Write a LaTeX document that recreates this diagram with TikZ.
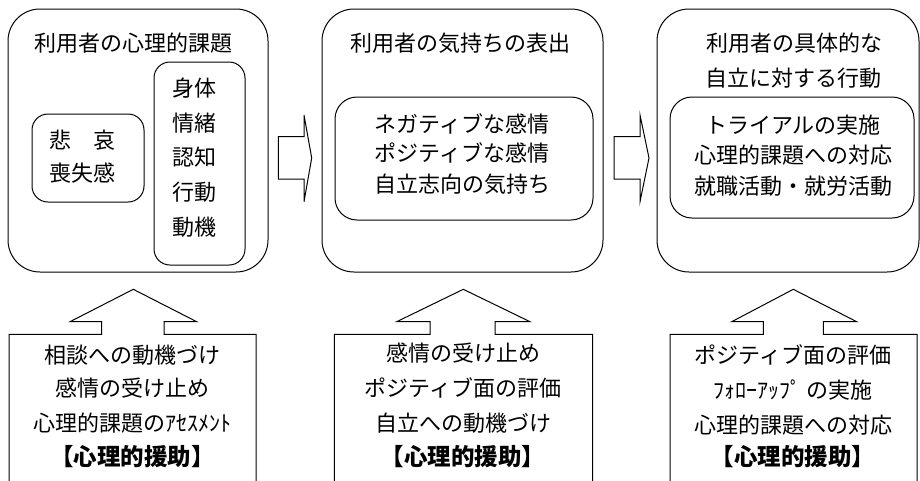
\documentclass[tikz,border=0pt]{standalone}
\usepackage{fontspec}
\setmainfont{Noto Sans CJK JP}
\begin{document}
\begin{tikzpicture}[x=1pt,y=-1pt,line width=1pt,
  outerbox/.style={draw,rounded corners=32pt,inner sep=0pt},
  innerbox/.style={draw,rounded corners=16pt,inner sep=0pt},
  midbox/.style={draw,rounded corners=22pt,inner sep=0pt},
  txt/.style={font=\fontsize{22}{22}\selectfont,inner sep=0pt,anchor=center},
  btxt/.style={font=\fontsize{23.5}{23.5}\selectfont\bfseries,inner sep=0pt,anchor=center},
  blockarrow/.style={draw,line join=miter}]
\useasboundingbox (0,0) rectangle (920,480);
% top boxes
\node[outerbox,minimum width=260pt,minimum height=263pt] (B1) at (138,140.5) {};
\node[outerbox,minimum width=281pt,minimum height=263pt] (B2) at (462.5,140.5) {};
\node[outerbox,minimum width=262pt,minimum height=263pt] (B3) at (788,140.5) {};
% inner boxes
\node[innerbox,minimum width=112pt,minimum height=88pt] (I1a) at (88,158) {};
\node[innerbox,minimum width=91pt,minimum height=203pt] (I1b) at (199.5,163.5) {};
\node[midbox,minimum width=258pt,minimum height=123pt] (I2) at (464,158.5) {};
\node[midbox,minimum width=244pt,minimum height=121pt] (I3) at (792,157.5) {};
% box 1 texts
\node[txt] (t1) at (133,43) {利用者の心理的課題};
\node[txt,anchor=west] (t1a1) at (49,140) {悲　哀};
\node[txt,anchor=west] (t1a2) at (49,173) {喪失感};
\node[txt] (t1b1) at (194,88) {身体};
\node[txt] (t1b2) at (194,123) {情緒};
\node[txt] (t1b3) at (194,157) {認知};
\node[txt] (t1b4) at (194,192) {行動};
\node[txt] (t1b5) at (194,227) {動機};
% box 2 texts
\node[txt] (t2) at (460,43) {利用者の気持ちの表出};
\node[txt] (t2a) at (462,124) {ネガティブな感情};
\node[txt] (t2b) at (462,153) {ポジティブな感情};
\node[txt] (t2c) at (462,184) {自立志向の気持ち};
% box 3 texts
\node[txt] (t3a) at (794,43) {利用者の具体的な};
\node[txt] (t3b) at (793,78) {自立に対する行動};
\node[txt] (t3c) at (793,125) {トライアルの実施};
\node[txt] (t3d) at (793,155) {心理的課題への対応};
\node[txt] (t3e) at (793,186) {就職活動・就労活動};
% right block arrows
\draw[blockarrow] (278.3,136.7) -- (304,136.7) -- (304,115) -- (311.7,158) -- (304,201.7) -- (304,179) -- (278.3,179) -- cycle;
\draw[blockarrow] (614,136.7) -- (640,136.7) -- (640,115) -- (649,158) -- (640,201.7) -- (640,179) -- (614,179) -- cycle;
% bottom boxes with up arrows
\draw[blockarrow] (9,482) -- (9,334.3) -- (101.7,334.3) -- (101.7,321.7) -- (70,321.7) -- (133.3,289.3) -- (196.7,321.7) -- (164,321.7) -- (164,334.3) -- (256,334.3) -- (256,482);
\draw[blockarrow] (334.3,482) -- (334.3,334.3) -- (430,334.3) -- (430,321.7) -- (396.7,321.7) -- (463.3,289.3) -- (530,321.7) -- (495,321.7) -- (495,334.3) -- (592.7,334.3) -- (592.7,482);
\draw[blockarrow] (670,482) -- (670,334.3) -- (763.3,334.3) -- (763.3,321.7) -- (731.7,321.7) -- (793.3,289.3) -- (856.7,321.7) -- (823.3,321.7) -- (823.3,334.3) -- (917,334.3) -- (917,482);
% bottom texts
\node[txt] (u1a) at (132.5,355) {相談への動機づけ};
\node[txt] (u1b) at (132.5,388) {感情の受け止め};
\node[txt] (u1c) at (132.5,423) {心理的課題のｱｾｽﾒﾝﾄ};
\node[btxt] (u1d) at (132.5,457) {【心理的援助】};
\node[txt] (u2a) at (463,353) {感情の受け止め};
\node[txt] (u2b) at (463,388) {ポジティブ面の評価};
\node[txt] (u2c) at (463,423) {自立への動機づけ};
\node[btxt] (u2d) at (463,457) {【心理的援助】};
\node[txt] (u3a) at (793,355) {ポジティブ面の評価};
\node[txt] (u3b) at (793,390) {ﾌｫﾛｰｱｯﾌﾟ の実施};
\node[txt] (u3c) at (793,425) {心理的課題への対応};
\node[btxt] (u3d) at (793,457) {【心理的援助】};
\end{tikzpicture}
\end{document}
